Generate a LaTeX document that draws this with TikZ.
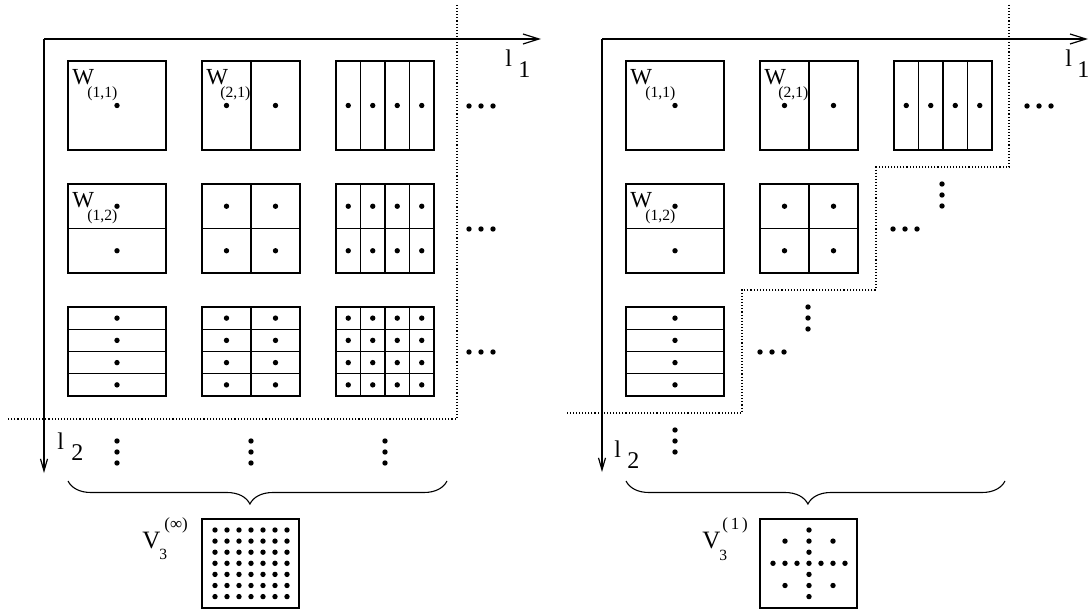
\documentclass[tikz,border=0pt]{standalone}
\usepackage{fontspec}
\setmainfont{Liberation Serif}
\usetikzlibrary{arrows.meta, calc, decorations.pathreplacing}

\begin{document}
\begin{tikzpicture}[
    x=0.5pt, y=-0.5pt,
    cellbox/.style={rectangle, draw, line width=0.55pt, minimum width=49pt,
                    minimum height=44.5pt, inner sep=0pt, outer sep=0pt},
    vbox/.style={cellbox, minimum width=48.5pt},
    cellline/.style={line width=0.55pt},
    spot/.style={radius=1.35pt},
    axis/.style={-{Straight Barb[length=8pt, width=5pt]}, line width=0.6pt},
    axisdown/.style={-{Straight Barb[length=6pt, width=3.5pt]}, line width=0.6pt},
    frontier/.style={densely dotted, line width=0.55pt},
    bracket/.style={decorate, line width=0.55pt,
                    decoration={brace, mirror, amplitude=11.5pt, aspect=0.48}},
    lbl/.style={inner sep=0pt, anchor=base west, font=\fontsize{11.5}{13}\selectfont},
    axlbl/.style={lbl, font=\fontsize{12}{14}\selectfont},
    vlbl/.style={lbl, font=\fontsize{12.5}{14}\selectfont},
    sublbl/.style={lbl, font=\fontsize{7.8}{9}\selectfont},
    suplbl/.style={lbl, font=\fontsize{8.5}{10}\selectfont}
]
\useasboundingbox (0,0) rectangle (1092,609);

% Axes
\coordinate (Lo) at (44,39);
\coordinate (Lx) at (541,39);
\coordinate (Ly) at (44,473);
\coordinate (Ro) at (602,39);
\coordinate (Rx) at (1088,39);
\coordinate (Ry) at (602,472);
\draw[axis] (Lo) -- (Lx);
\draw[axisdown] (Lo) -- (Ly);
\draw[axis] (Ro) -- (Rx);
\draw[axisdown] (Ro) -- (Ry);

\node[axlbl] (Ll1) at (505,67) {l};
\node[axlbl] (Ll1i) at (518,78) {1};
\node[axlbl] (Ll2) at (57,449) {l};
\node[axlbl] (Ll2i) at (71,460) {2};
\node[axlbl] (Rl1) at (1065,67) {l};
\node[axlbl] (Rl1i) at (1077,78) {1};
\node[axlbl] (Rl2) at (614,457) {l};
\node[axlbl] (Rl2i) at (627,468) {2};

% Boxes W_(i,j), split 2^(i-1) by 2^(j-1)
\foreach \p/\dx/\col/\row in {L/0/1/1, L/0/2/1, L/0/3/1, L/0/1/2, L/0/2/2, L/0/3/2,
                              L/0/1/3, L/0/2/3, L/0/3/3,
                              R/558/1/1, R/558/2/1, R/558/3/1, R/558/1/2, R/558/2/2,
                              R/558/1/3} {
  \pgfmathtruncatemacro\nc{2^(\col-1)}
  \pgfmathtruncatemacro\nr{2^(\row-1)}
  \pgfmathsetmacro\cx{117+134*(\col-1)+\dx}
  \pgfmathsetmacro\cy{105.5+123*(\row-1)}
  \node[cellbox] (\p\col\row) at (\cx,\cy) {};
  \foreach \k in {1,...,\nc} {
    \pgfmathsetmacro\f{\k/\nc}
    \draw[cellline] ($(\p\col\row.north west)!\f!(\p\col\row.north east)$)
      -- ($(\p\col\row.south west)!\f!(\p\col\row.south east)$);
  }
  \foreach \k in {1,...,\nr} {
    \pgfmathsetmacro\f{\k/\nr}
    \draw[cellline] ($(\p\col\row.north west)!\f!(\p\col\row.south west)$)
      -- ($(\p\col\row.north east)!\f!(\p\col\row.south east)$);
  }
  \foreach \a in {1,...,\nc}
    \foreach \b in {1,...,\nr}
      \fill ($(\p\col\row.north west)+({(\a-0.5)*98/\nc},{(\b-0.5)*89/\nr})$) circle[spot];
}

% W labels
\foreach \p/\dx in {L/0, R/558} {
  \node[lbl] (\p W11) at (72+\dx,85) {W};
  \node[sublbl] (\p W11s) at (87+\dx,98) {(1,1)};
  \node[lbl] (\p W21) at (206+\dx,85) {W};
  \node[sublbl] (\p W21s) at (220+\dx,98) {(2,1)};
  \node[lbl] (\p W12) at (72+\dx,208) {W};
  \node[sublbl] (\p W12s) at (87+\dx,221) {(1,2)};
}

% Dotted borders
\coordinate (Lt) at (457,5);
\coordinate (Lc) at (457,419);
\coordinate (Le) at (8,419);
\draw[frontier] (Lt) -- (Lc) -- (Le);
\coordinate (Rt) at (1009,5);
\coordinate (Rc1) at (1009,167);
\coordinate (Rc2) at (876,167);
\coordinate (Rc3) at (876,290);
\coordinate (Rc4) at (742,290);
\coordinate (Rc5) at (742,413);
\coordinate (Re) at (566,413);
\draw[frontier] (Rt) -- (Rc1) -- (Rc2) -- (Rc3) -- (Rc4) -- (Rc5) -- (Re);

% Ellipses
\foreach \x/\y in {469/106, 469/229, 469/352, 1027/106, 893/229, 760/352}
  \foreach \i in {0,1,2}
    \fill ({\x+12*\i},\y) circle[spot];
\foreach \x/\y in {117/441, 251/441, 385/441, 942/184, 808/307, 675/430}
  \foreach \i in {0,1,2}
    \fill (\x,{\y+11*\i}) circle[spot];

% Braces
\coordinate (Lb1) at (68,481);
\coordinate (Lb2) at (447,481);
\coordinate (Rb1) at (626,481);
\coordinate (Rb2) at (1005,481);
\draw[bracket] (Lb1) -- (Lb2);
\draw[bracket] (Rb1) -- (Rb2);

% V_3 boxes
\node[vbox] (LV) at (250.5,563.5) {};
\node[vbox] (RV) at (808.5,563.5) {};
\foreach \a in {0,...,6}
  \foreach \b in {0,...,6}
    \fill ($(LV.north west)+({13+12*\a},{11+11.1*\b})$) circle[spot];
\foreach \a/\b in {3/0, 3/1, 3/2, 3/3, 3/4, 3/5, 3/6, 0/3, 1/3, 2/3, 4/3, 5/3, 6/3,
                   1/1, 5/1, 1/5, 5/5}
  \fill ($(RV.north west)+({13+12*\a},{11+11.1*\b})$) circle[spot];

\node[vlbl] (LVl) at (142,548) {V};
\node[sublbl] (LVs) at (159,559) {3};
\node[suplbl] (LVp) at (164,529) {(∞)};
\node[vlbl] (RVl) at (702,548) {V};
\node[sublbl] (RVs) at (719,560) {3};
\node[suplbl] (RVp) at (722,529) {(\,1\,)};

\end{tikzpicture}
\end{document}
